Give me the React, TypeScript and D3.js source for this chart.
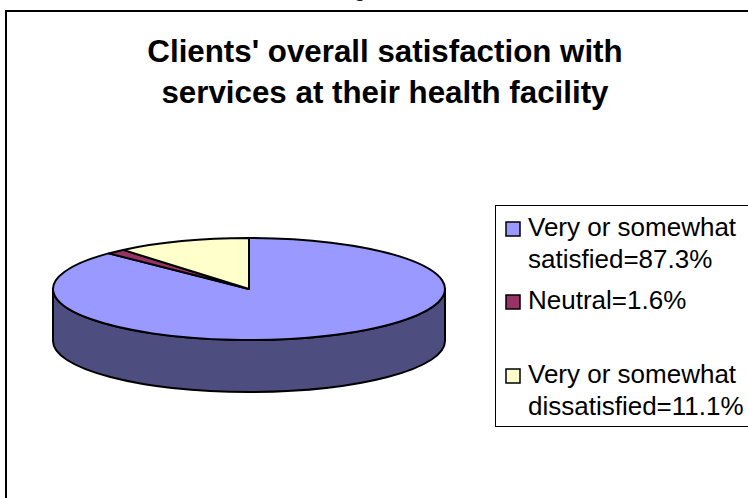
import React, { useEffect, useRef } from "react";
import * as d3 from "d3";

const categories = ["Very or somewhat satisfied", "Neutral", "Very or somewhat dissatisfied"];
const values = [87.3, 1.6, 11.1];
const colors = ["#9999ff", "#993366", "#ffffcc"];
const legendLines = [
  ["Very or somewhat", "satisfied=87.3%"],
  ["Neutral=1.6%"],
  ["Very or somewhat", "dissatisfied=11.1%"],
];
const titleLines = ["Clients' overall satisfaction with", "services at their health facility"];

const App = () => {
  const ref = useRef<SVGSVGElement>(null);

  useEffect(() => {
    const width = 748;
    const height = 498;
    const font = "Liberation Sans, Arial, sans-serif";

    const svg = d3.select(ref.current);
    svg.selectAll("*").remove();

    // chart frame runs off the right and bottom of the picture
    svg.append("rect").attr("width", width).attr("height", height).attr("fill", "#fff");
    svg.append("rect")
      .attr("x", 6).attr("y", 11)
      .attr("width", 800).attr("height", 600)
      .attr("fill", "#fff").attr("stroke", "#000").attr("stroke-width", 2);

    // title
    svg.append("g")
      .selectAll("text")
      .data(titleLines)
      .enter()
      .append("text")
      .attr("x", 385)
      .attr("y", (d, i) => 62 + i * 41)
      .attr("text-anchor", "middle")
      .attr("font-family", font)
      .attr("font-size", 31.3)
      .attr("font-weight", "bold")
      .text((d) => d);

    // pie
    const cx = 249;
    const cy = 289;
    const rx = 196;
    const ry = 51;
    const depth = 52;

    const slices = d3.pie<number>().sort(null).startAngle(0).endAngle(2 * Math.PI)(values);
    const arc = d3.arc<d3.PieArcDatum<number>>().innerRadius(0).outerRadius(rx);

    // side wall, front half of the ellipse pushed down by depth
    const side = [
      `M${cx - rx},${cy}`,
      `L${cx - rx},${cy + depth}`,
      `A${rx},${ry} 0 0 0 ${cx + rx},${cy + depth}`,
      `L${cx + rx},${cy}`,
      `A${rx},${ry} 0 0 1 ${cx - rx},${cy}`,
      "Z",
    ].join("");
    svg.append("path")
      .attr("d", side)
      .attr("fill", "#4d4d80")
      .attr("stroke", "#000")
      .attr("stroke-width", 2)
      .attr("stroke-linejoin", "round");

    svg.append("g")
      .attr("transform", `translate(${cx},${cy}) scale(1,${ry / rx})`)
      .selectAll("path")
      .data(slices)
      .enter()
      .append("path")
      .attr("d", arc)
      .attr("fill", (d, i) => colors[i])
      .attr("stroke", "#000")
      .attr("stroke-width", 2)
      .attr("stroke-linejoin", "round")
      .attr("vector-effect", "non-scaling-stroke");

    // legend
    const legend = svg.append("g");
    legend.append("rect")
      .attr("x", 495.5).attr("y", 205.5)
      .attr("width", 260).attr("height", 221)
      .attr("fill", "#fff").attr("stroke", "#000").attr("stroke-width", 1);

    const legendY = [229, 302, 376];
    const rows = legend.selectAll("g")
      .data(categories)
      .enter()
      .append("g")
      .attr("transform", (d, i) => `translate(0,${legendY[i]})`);

    rows.append("rect")
      .attr("x", 506).attr("y", -7)
      .attr("width", 14).attr("height", 14)
      .attr("fill", (d, i) => colors[i])
      .attr("stroke", "#000").attr("stroke-width", 1.5);

    rows.append("text")
      .attr("font-family", font)
      .attr("font-size", 26)
      .attr("fill", "#000")
      .selectAll("tspan")
      .data((d, i) => legendLines[i])
      .enter()
      .append("tspan")
      .attr("x", 528)
      .attr("y", (d, i) => 7 + i * 32)
      .text((d) => d);

    // clipped descender of the caption above the chart
    svg.append("text")
      .attr("x", 360).attr("y", -3)
      .attr("text-anchor", "middle")
      .attr("font-family", font)
      .attr("font-size", 20)
      .attr("font-weight", "bold")
      .text("g");
  }, []);

  return (
    <svg
      ref={ref}
      width={748}
      height={498}
      style={{ position: "fixed", left: 0, top: 0 }}
    />
  );
};

export default App;
